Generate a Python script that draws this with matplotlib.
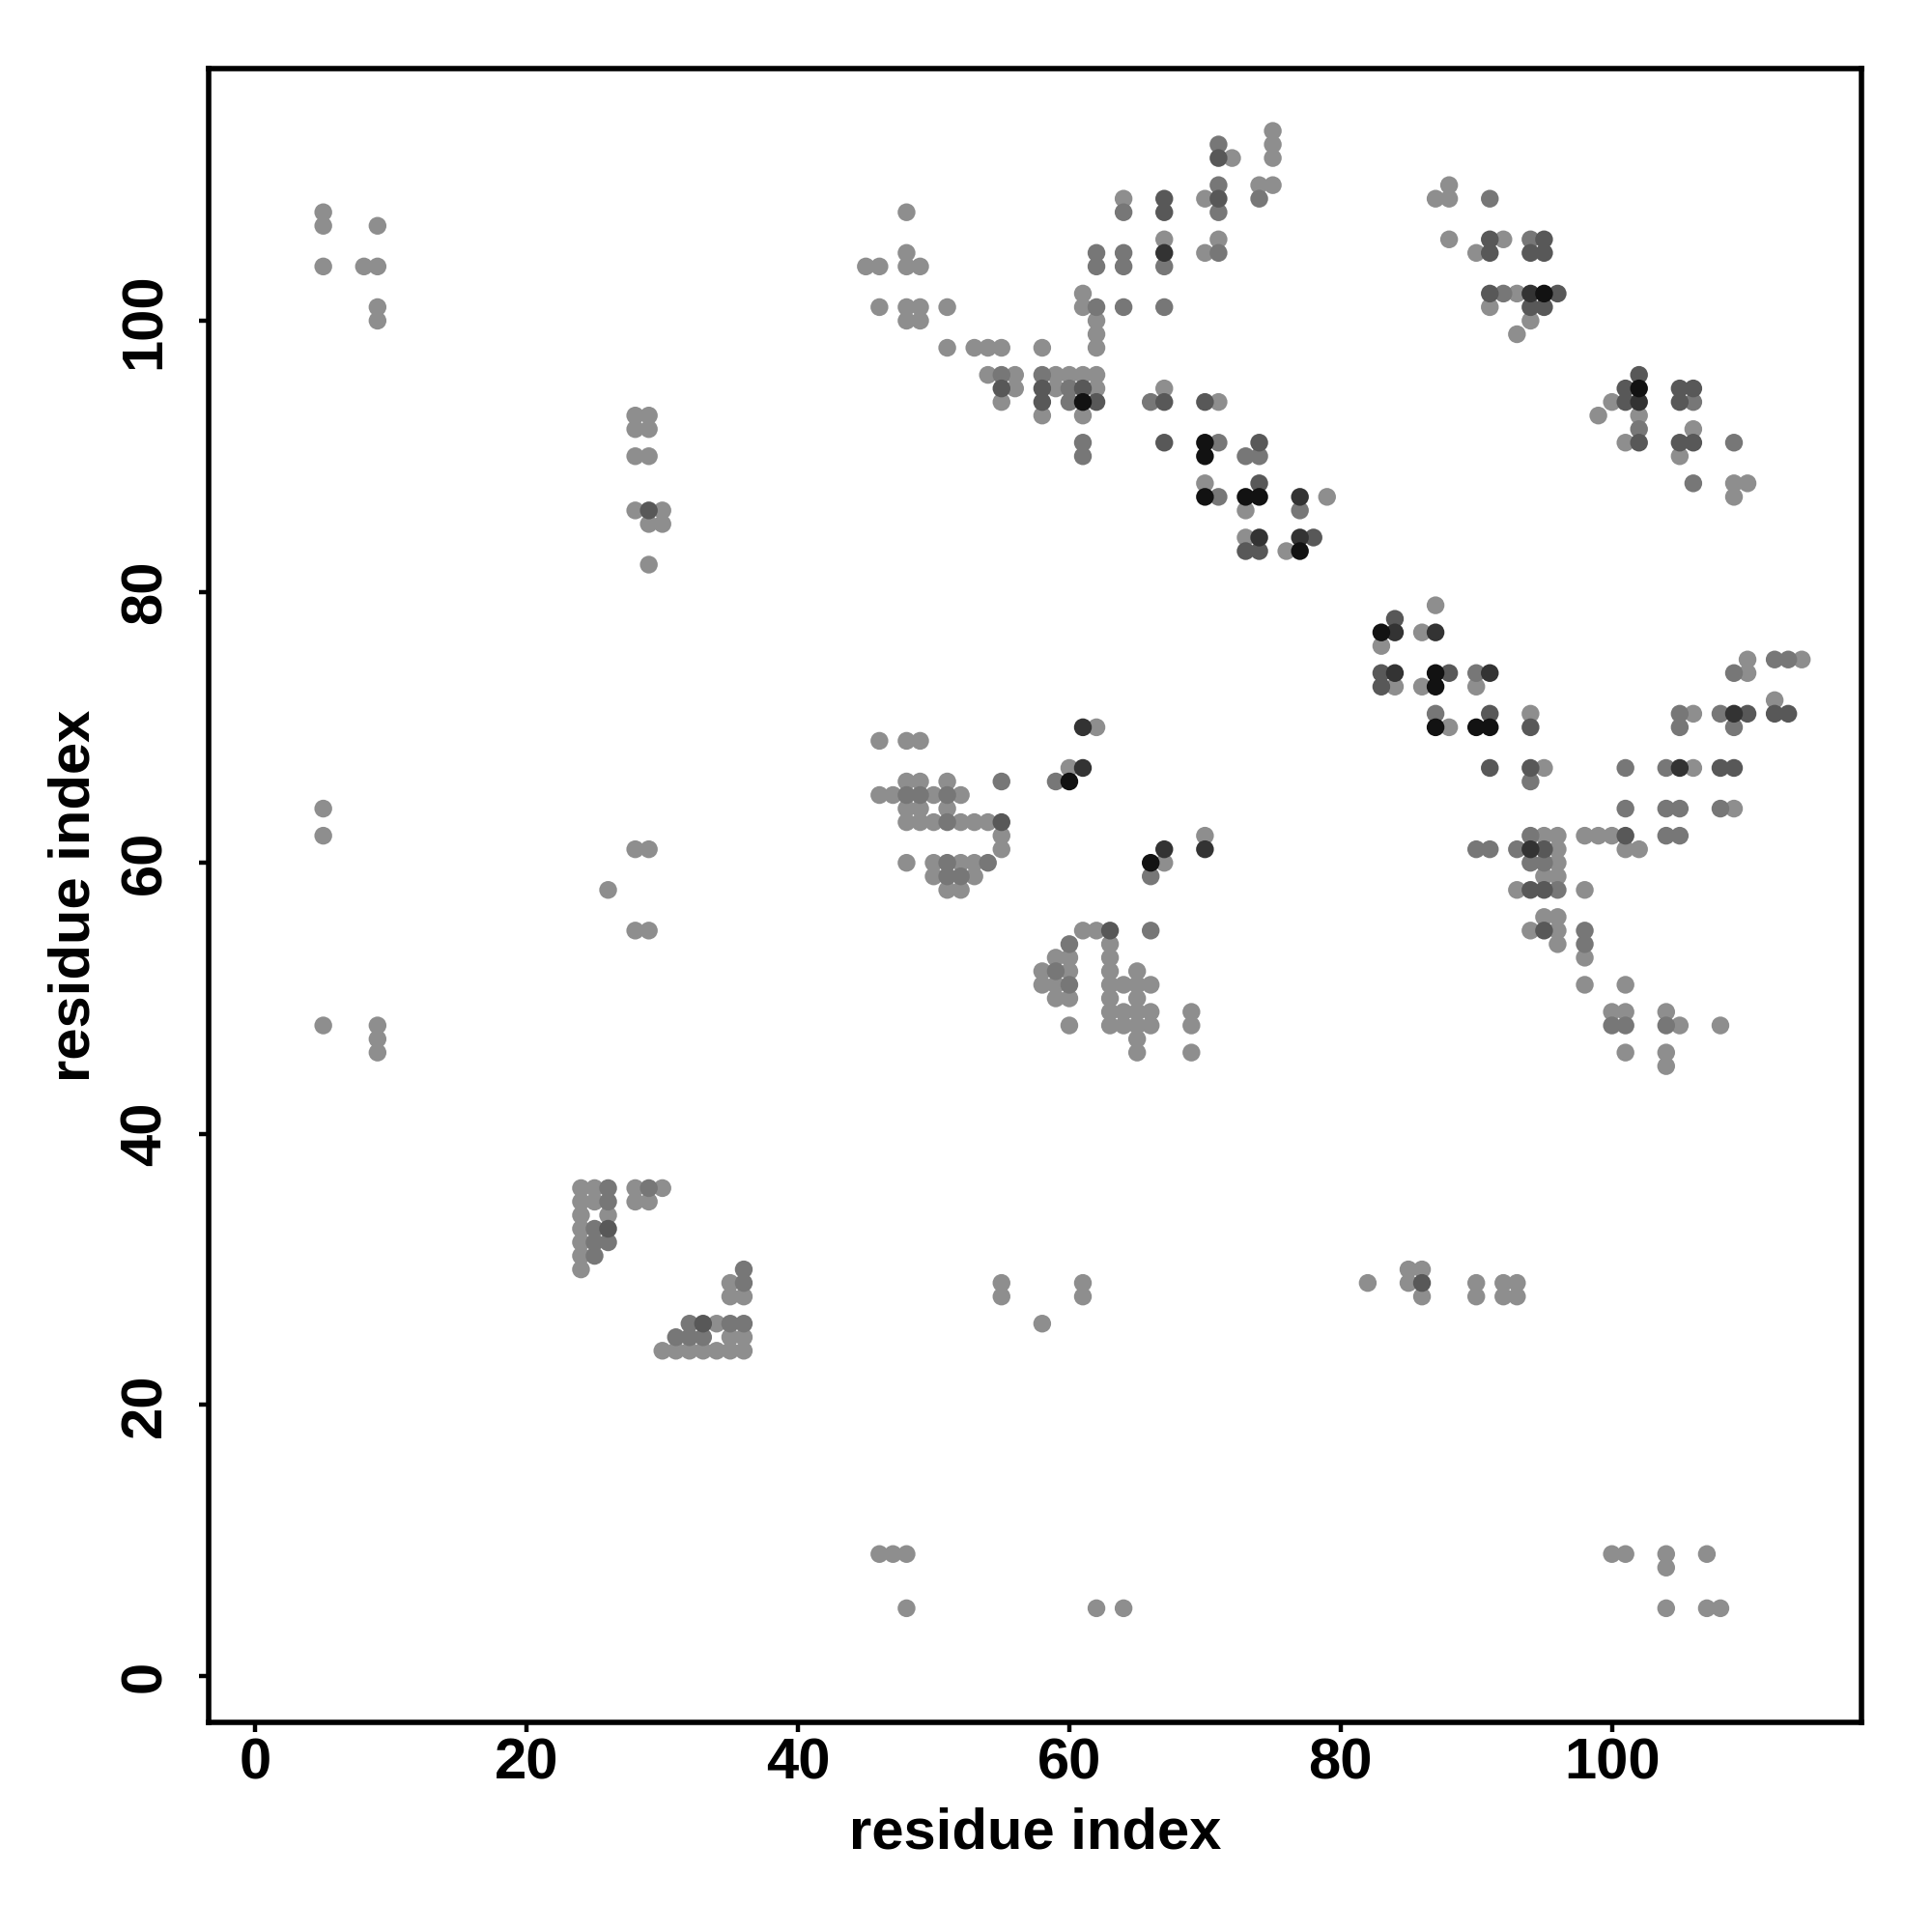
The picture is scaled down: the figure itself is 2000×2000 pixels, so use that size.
import numpy as np
import matplotlib
matplotlib.use("Agg")
import matplotlib.pyplot as plt

# contacts (residue i, residue j) grouped by contact strength, 1 = weak .. 5 = strong
strength_1 = [
    (5, 108), (5, 107), (9, 107), (5, 104), (8, 104), (9, 104), (9, 101), (9, 100),
    (28, 93), (29, 93), (28, 92), (29, 92), (28, 90), (29, 90), (28, 86), (30, 86),
    (29, 85), (30, 85), (29, 82),
    (48, 108), (48, 105), (45, 104), (46, 104), (48, 104), (49, 104), (46, 101), (48, 101),
    (49, 101), (51, 101), (48, 100), (49, 100), (51, 98), (53, 98), (54, 98), (55, 98),
    (58, 98), (54, 96), (56, 96), (59, 96), (60, 96), (61, 96), (62, 96), (56, 95),
    (59, 95), (62, 95), (55, 94), (58, 93), (61, 93),
    (72, 112), (75, 114), (75, 113), (75, 112), (70, 109), (64, 109), (74, 110), (75, 110),
    (67, 106), (70, 105), (71, 106), (61, 102), (61, 101), (62, 100), (62, 99), (62, 98),
    (67, 95), (71, 94), (70, 88), (73, 86), (79, 87), (73, 84), (76, 83),
    (87, 109), (88, 110), (88, 109), (88, 106), (90, 105), (92, 106), (93, 102), (91, 101),
    (94, 100), (93, 99), (102, 93), (100, 94), (99, 93), (101, 91), (106, 92), (105, 90),
    (109, 88), (109, 87), (110, 88),
    (87, 79), (86, 77), (83, 76), (90, 73), (84, 73), (86, 73), (88, 70), (94, 71), (95, 67),
    (110, 75), (110, 74), (114, 75), (112, 72), (106, 71), (106, 67), (109, 64), (95, 62),
    (96, 62), (98, 62), (99, 62), (100, 62), (96, 61), (101, 61), (102, 61), (96, 60),
    (95, 59), (96, 59), (93, 58), (98, 58), (95, 56), (96, 56), (94, 55), (96, 55), (96, 54),
    (98, 53), (98, 51), (101, 51), (100, 49), (101, 49), (104, 49), (105, 48), (108, 48),
    (101, 46), (104, 46), (104, 45),
    (46, 69), (48, 69), (49, 69), (48, 66), (49, 66), (51, 66), (46, 65), (47, 65), (50, 65),
    (52, 65), (48, 64), (49, 64), (51, 64), (48, 63), (49, 63), (50, 63), (52, 63), (53, 63),
    (54, 63), (55, 62), (55, 61), (48, 60), (50, 60), (52, 60), (53, 60), (50, 59), (53, 59),
    (51, 58), (52, 58), (62, 70), (60, 67), (70, 62), (67, 60),
    (61, 55), (62, 55), (63, 54), (59, 53), (60, 53), (63, 53), (58, 52), (60, 52), (63, 52),
    (65, 52), (58, 51), (59, 51), (63, 51), (64, 51), (65, 51), (66, 51), (59, 50), (60, 50),
    (63, 50), (65, 50), (63, 49), (64, 49), (65, 49), (66, 49), (69, 49), (60, 48), (63, 48),
    (64, 48), (65, 48), (66, 48), (69, 48), (65, 47), (65, 46), (69, 46),
    (5, 64), (5, 62), (28, 61), (29, 61), (26, 58), (28, 55), (29, 55), (5, 48), (9, 48),
    (9, 47), (9, 46),
    (24, 36), (24, 35), (24, 34), (24, 33), (24, 32), (24, 31), (24, 30), (25, 36), (25, 35),
    (26, 34), (28, 36), (28, 35), (29, 35), (30, 36), (34, 26), (35, 25), (36, 25), (30, 24),
    (31, 24), (32, 24), (33, 24), (34, 24), (35, 24), (36, 24), (35, 29), (35, 28), (36, 28),
    (55, 29), (55, 28), (58, 26), (61, 29), (61, 28), (82, 29), (85, 30), (85, 29), (86, 30),
    (86, 28), (90, 29), (90, 28), (92, 29), (92, 28), (93, 29), (93, 28),
    (46, 9), (47, 9), (48, 9), (48, 5), (62, 5), (64, 5),
    (100, 9), (101, 9), (104, 9), (104, 8), (107, 9), (104, 5), (107, 5), (108, 5),
]

strength_2 = [
    (55, 96), (58, 96), (60, 95), (60, 94), (61, 91), (61, 90),
    (71, 113), (71, 110), (71, 108), (64, 108), (74, 109), (62, 105), (62, 104), (64, 105),
    (64, 104), (67, 104), (71, 105), (62, 101), (64, 101), (67, 101), (66, 94), (71, 91),
    (73, 90), (74, 90), (71, 87), (77, 86),
    (91, 109), (94, 106), (92, 102), (102, 92), (106, 94), (109, 91), (106, 88),
    (90, 74), (87, 71), (94, 66), (109, 74), (112, 75), (113, 75), (108, 71), (109, 70),
    (105, 71), (105, 70), (101, 67), (104, 67), (101, 64), (104, 64), (105, 64), (108, 64),
    (94, 62), (104, 62), (105, 62), (90, 61), (91, 61), (93, 61), (94, 60), (95, 60),
    (96, 58), (98, 55), (98, 54), (100, 48), (101, 48), (104, 48),
    (55, 66), (48, 65), (49, 65), (51, 65), (51, 63), (51, 60), (54, 60), (51, 59), (52, 59),
    (59, 66), (66, 59),
    (66, 55), (60, 54), (59, 52), (60, 51),
    (25, 33), (25, 32), (25, 31), (26, 36), (26, 35), (26, 32), (29, 36), (32, 26), (35, 26),
    (36, 26), (31, 25), (32, 25), (33, 25), (36, 30), (36, 29),
]

strength_3 = [
    (29, 86),
    (55, 95), (58, 95), (61, 95), (58, 94), (62, 94),
    (71, 112), (71, 109), (67, 109), (67, 108), (70, 94), (67, 94), (67, 91), (74, 91),
    (74, 88), (73, 83), (74, 83), (78, 84),
    (91, 106), (91, 105), (94, 105), (95, 106), (95, 105), (91, 102), (96, 102), (94, 101),
    (95, 101), (101, 95), (101, 94), (102, 96), (102, 91), (105, 95), (105, 94), (106, 95),
    (105, 91), (106, 91),
    (84, 78), (83, 74), (88, 74), (83, 73), (91, 71), (94, 70), (91, 67), (94, 67),
    (112, 71), (113, 71), (110, 71), (108, 67), (109, 67), (101, 62), (95, 61), (94, 58),
    (95, 58), (95, 55),
    (55, 63), (63, 55), (26, 33), (33, 26), (86, 29),
]

strength_4 = [
    (67, 105), (77, 87), (74, 84), (77, 84),
    (94, 102), (102, 94),
    (84, 77), (87, 77), (84, 74), (91, 74), (109, 71), (105, 67), (94, 61),
    (61, 70), (61, 67), (67, 61), (70, 61),
]

strength_5 = [
    (61, 94),
    (70, 91), (70, 90), (70, 87), (73, 87), (74, 87), (77, 83),
    (95, 102), (102, 95),
    (83, 77), (87, 74), (87, 73), (87, 70), (90, 70), (91, 70),
    (60, 66), (66, 60),
]

strength_grey = {1: "#8e8e8e", 2: "#777777", 3: "#585858", 4: "#333333", 5: "#121212"}
contact_sets = [strength_1, strength_2, strength_3, strength_4, strength_5]

plt.rcParams['font.family'] = ['Liberation Sans', 'DejaVu Sans']
plt.rcParams['font.weight'] = 'bold'

fig = plt.figure(figsize=(10, 10), dpi=200)
ax = fig.add_axes([0.108, 0.1085, 0.8555, 0.856])

# weaker contacts first so the strong ones sit on top
for level, pairs in enumerate(contact_sets, start=1):
    pts = np.array(pairs)
    ax.scatter(pts[:, 0], pts[:, 1], s=44, c=strength_grey[level],
               edgecolors='none', zorder=2 + level)

ax.set_xlim(-3.45, 118.4)
ax.set_ylim(-3.42, 118.6)
ax.set_xticks([0, 20, 40, 60, 80, 100])
ax.set_yticks([0, 20, 40, 60, 80, 100])

for sp in ax.spines.values():
    sp.set_linewidth(2.0)
ax.tick_params(axis='both', direction='out', length=3.6, width=1.6,
               labelsize=21.5)
ax.tick_params(axis='x', pad=2)
ax.tick_params(axis='y', pad=10)
for lab in ax.get_yticklabels():
    lab.set_rotation(90)
    lab.set_va('center')

ax.set_xlabel("residue index", fontsize=21.5, fontweight='bold')
ax.set_ylabel("residue index", fontsize=21.5, fontweight='bold')
ax.xaxis.set_label_coords(0.5, -0.051)
ax.yaxis.set_label_coords(-0.065, 0.5)

fig.savefig("out.png", dpi=200, facecolor='white')
